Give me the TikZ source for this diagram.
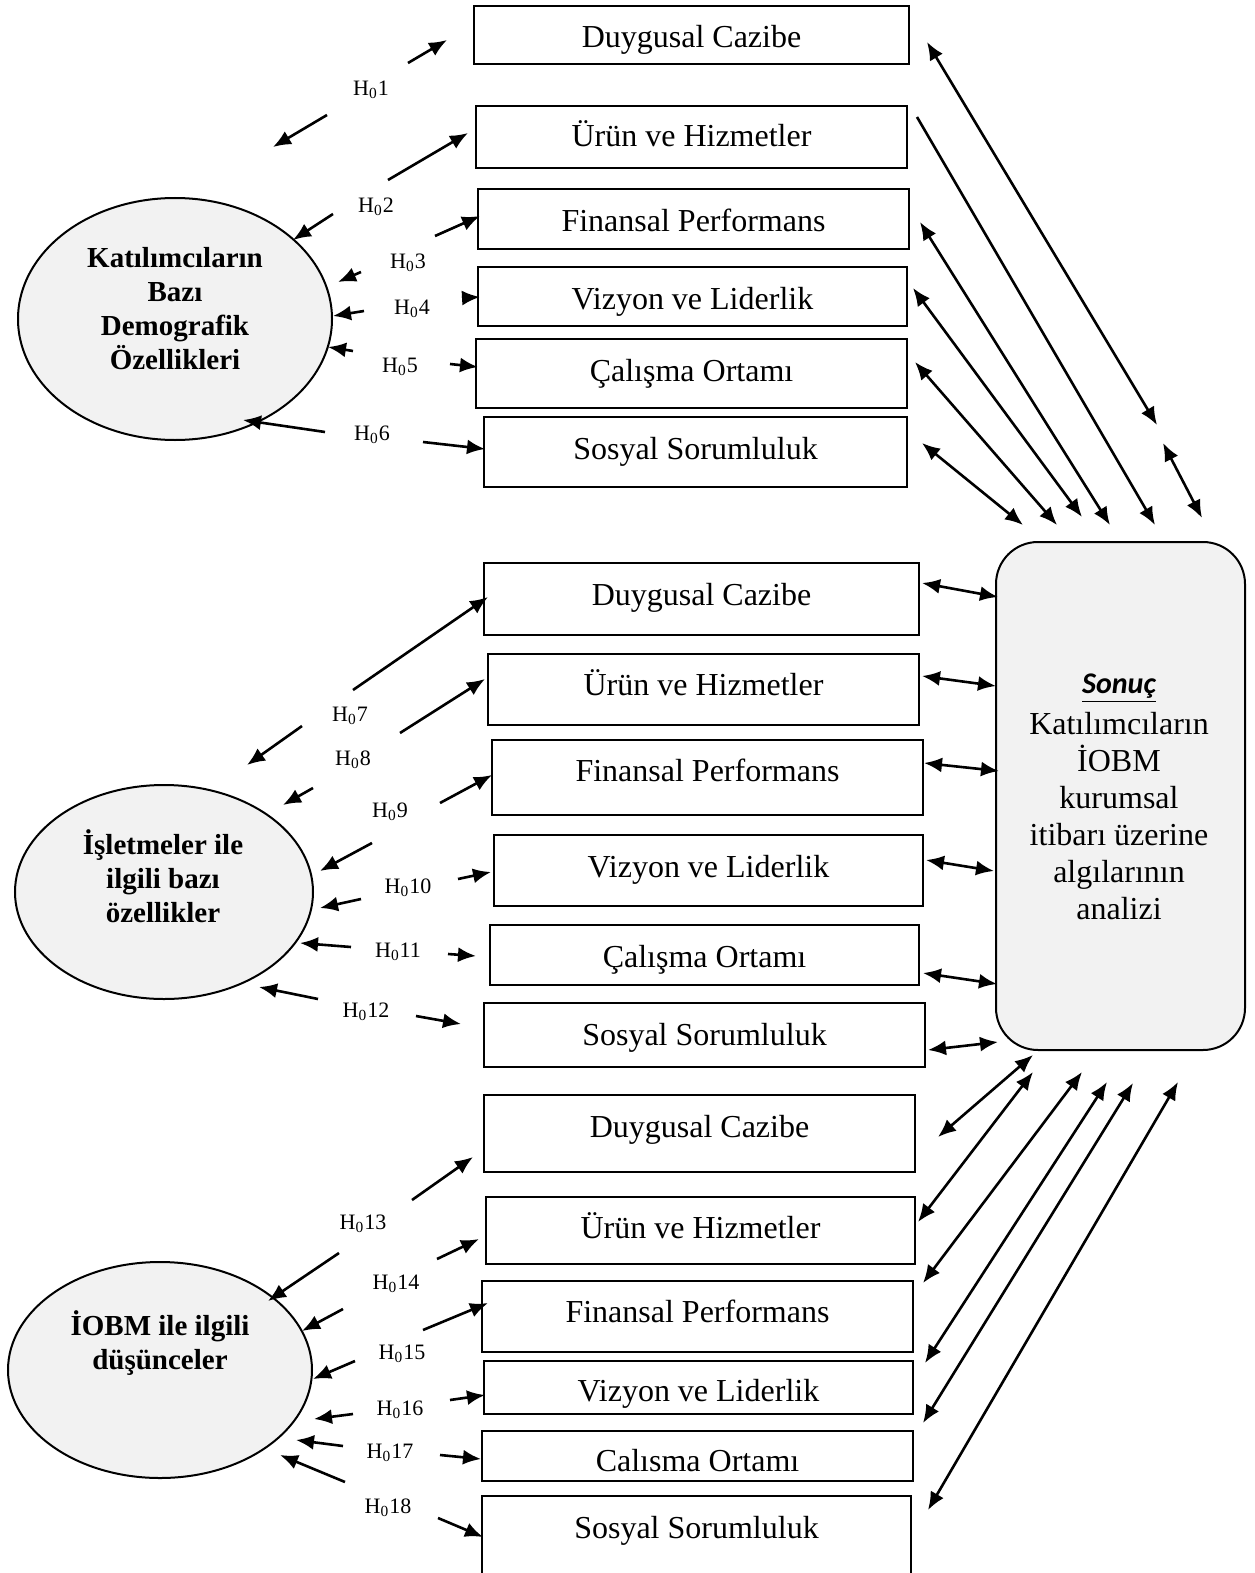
\documentclass[tikz,border=0pt]{standalone}
\usepackage{fontspec}
\setmainfont{Liberation Serif}
\newfontfamily\sonucfont{Carlito}
\usetikzlibrary{arrows.meta,fit,shapes.geometric}
\definecolor{fillgray}{HTML}{F2F2F2}
\tikzset{
  rbox/.style={draw, line width=1pt, inner sep=0pt, rectangle},
  btxt/.style={font=\fontsize{16}{19}\selectfont, inner sep=0pt, text height=1.5ex, text depth=.25ex, yshift=-3pt},
  hlab/.style={font=\fontsize{11}{13}\selectfont, inner sep=0pt},
  etxt/.style={font=\fontsize{14.5}{17}\selectfont\bfseries, align=center, inner sep=0pt},
  ell/.style={draw, ellipse, line width=1pt, fill=fillgray, inner sep=0pt},
  arr/.style={line width=1.3pt, -{Latex[length=9pt,width=7.5pt]}},
  darr/.style={line width=1.3pt, {Latex[length=9pt,width=7.5pt]}-{Latex[length=9pt,width=7.5pt]}}
}
\newcommand{\conn}[4]{\coordinate (#1a) at (#2); \coordinate (#1b) at (#3); \draw[#4] (#1a) -- (#1b);}
\newcommand{\bx}[7]{\node[rbox, fit={(#2,#3)(#4,#5)}] (#1) {}; \node[btxt] (#1t) at ({(#2+#4)/2},#6) {#7};}
\newcommand{\hl}[3]{\node[hlab] (#1) at (#2) {H\textsubscript{0}#3};}
\begin{document}
\begin{tikzpicture}[x=0.5pt,y=-0.5pt]
\useasboundingbox (0,0) rectangle (1254,1573);
% ellipses
\node[ell, minimum width=157pt, minimum height=121pt] (e1) at (175,319) {};
\node[etxt] (e1t) at (175,309) {Katılımcıların\\Bazı\\Demografik\\Özellikleri};
\node[ell, minimum width=149pt, minimum height=107pt] (e2) at (164,892) {};
\node[etxt] (e2t) at (163,876) {İşletmeler ile\\ilgili bazı\\özellikler};
\node[ell, minimum width=152pt, minimum height=108pt] (e3) at (160,1370) {};
\node[etxt] (e3t) at (160,1343) {İOBM ile ilgili\\düşünceler};
% result box
\node[draw, line width=1pt, fill=fillgray, rounded corners=21pt, inner sep=0pt, fit={(996,542)(1245,1050)}] (son) {};
\node[font=\sonucfont\fontsize{15}{18}\selectfont\bfseries\itshape, inner sep=0pt] (sont) at (1119,688) {\underline{Sonuç}};
\node[font=\fontsize{16}{18.5}\selectfont, align=center, inner sep=0pt] (sonb) at (1119,816) {Katılımcıların\\İOBM\\kurumsal\\itibarı üzerine\\algılarının\\analizi};
% boxes top
\bx{b1}{474}{6}{909}{64}{36}{Duygusal Cazibe}
\bx{b2}{476}{106}{907}{168}{135}{Ürün ve Hizmetler}
\bx{b3}{478}{189}{909}{249}{220}{Finansal Performans}
\bx{b4}{478}{267}{907}{326}{298}{Vizyon ve Liderlik}
\bx{b5}{476}{339}{907}{408}{370}{Çalışma Ortamı}
\bx{b6}{484}{417}{907}{487}{448}{Sosyal Sorumluluk}
% boxes middle
\bx{b7}{484}{563}{919}{635}{594}{Duygusal Cazibe}
\bx{b8}{488}{654}{919}{725}{684}{Ürün ve Hizmetler}
\bx{b9}{492}{740}{923}{815}{770}{Finansal Performans}
\bx{b10}{494}{835}{923}{906}{866}{Vizyon ve Liderlik}
\bx{b11}{490}{925}{919}{985}{956}{Çalışma Ortamı}
\bx{b12}{484}{1003}{925}{1067}{1034}{Sosyal Sorumluluk}
% boxes bottom
\bx{b13}{484}{1095}{915}{1172}{1126}{Duygusal Cazibe}
\bx{b14}{486}{1197}{915}{1264}{1227}{Ürün ve Hizmetler}
\bx{b15}{482}{1281}{913}{1352}{1311}{Finansal Performans}
\bx{b16}{484}{1361}{913}{1414}{1390}{Vizyon ve Liderlik}
\bx{b17}{482}{1431}{913}{1481}{1460}{Calısma Ortamı}
\bx{b18}{482}{1496}{911}{1577}{1527}{Sosyal Sorumluluk}
% labels
\hl{l1}{371,90}{1}
\hl{l2}{376,207}{2}
\hl{l3}{408,263}{3}
\hl{l4}{412,309}{4}
\hl{l5}{400,367}{5}
\hl{l6}{372,435}{6}
\hl{l7}{350,716}{7}
\hl{l8}{353,760}{8}
\hl{l9}{390,812}{9}
\hl{l10}{408,888}{10}
\hl{l11}{398,952}{11}
\hl{l12}{366,1012}{12}
\hl{l13}{363,1224}{13}
\hl{l14}{396,1284}{14}
\hl{l15}{402,1354}{15}
\hl{l16}{400,1410}{16}
\hl{l17}{390,1453}{17}
\hl{l18}{388,1508}{18}
% left arrows top
\conn{h1u}{408,63}{447,40}{arr}
\conn{h1l}{327,115}{273,147}{arr}
\conn{h2u}{388,180}{468,133}{arr}
\conn{h2l}{333,214}{293,240}{arr}
\conn{h3u}{435,236}{480,216}{arr}
\conn{h3l}{361,272}{338,282}{arr}
\conn{h4r}{462,298}{480,297}{arr}
\conn{h4l}{364,311}{333,316}{arr}
\conn{h5r}{450,364}{478,367}{arr}
\conn{h5l}{353,351}{328,347}{arr}
\conn{h6r}{423,442}{485,449}{arr}
\conn{h6l}{325,432}{243,420}{arr}
% left arrows middle
\conn{h7u}{353,690}{488,597}{arr}
\conn{h7l}{302,726}{247,765}{arr}
\conn{h8u}{400,733}{485,679}{arr}
\conn{h8l}{313,788}{283,805}{arr}
\conn{h9u}{440,803}{492,775}{arr}
\conn{h9l}{372,843}{320,871}{arr}
\conn{h10r}{458,879}{491,872}{arr}
\conn{h10l}{361,899}{320,908}{arr}
\conn{h11r}{448,954}{476,956}{arr}
\conn{h11l}{351,947}{300,943}{arr}
\conn{h12r}{416,1016}{461,1024}{arr}
\conn{h12l}{318,999}{259,987}{arr}
% left arrows bottom
\conn{h13u}{412,1200}{473,1157}{arr}
\conn{h13l}{339,1253}{268,1301}{arr}
\conn{h14u}{437,1259}{479,1239}{arr}
\conn{h14l}{343,1309}{302,1331}{arr}
\conn{h15u}{423,1330}{488,1303}{arr}
\conn{h15l}{355,1361}{313,1379}{arr}
\conn{h16r}{450,1400}{485,1395}{arr}
\conn{h16l}{353,1414}{314,1419}{arr}
\conn{h17r}{440,1455}{481,1459}{arr}
\conn{h17l}{343,1446}{296,1440}{arr}
\conn{h18r}{438,1518}{483,1537}{arr}
\conn{h18l}{345,1482}{280,1455}{arr}
% right arrows top
\conn{r1}{927,42}{1157,425}{darr}
\conn{r2}{917,117}{1155,525}{arr}
\conn{r3}{920,222}{1110,525}{darr}
\conn{r4}{913,288}{1082,517}{darr}
\conn{r5}{915,362}{1057,525}{darr}
\conn{r6}{922,443}{1023,525}{darr}
\conn{r7}{1163,443}{1202,518}{darr}
% right arrows middle
\conn{m1}{922,583}{998,597}{darr}
\conn{m2}{922,676}{996,686}{darr}
\conn{m3}{924,763}{999,771}{darr}
\conn{m4}{926,860}{994,871}{darr}
\conn{m5}{923,973}{997,984}{darr}
\conn{m6}{928,1050}{998,1042}{darr}
% right arrows bottom
\conn{q1}{1033,1055}{938,1137}{darr}
\conn{q2}{1033,1072}{918,1222}{darr}
\conn{q3}{1082,1072}{923,1283}{darr}
\conn{q4}{1107,1082}{925,1363}{darr}
\conn{q5}{1133,1083}{923,1423}{darr}
\conn{q6}{1178,1082}{928,1510}{darr}
\end{tikzpicture}
\end{document}
